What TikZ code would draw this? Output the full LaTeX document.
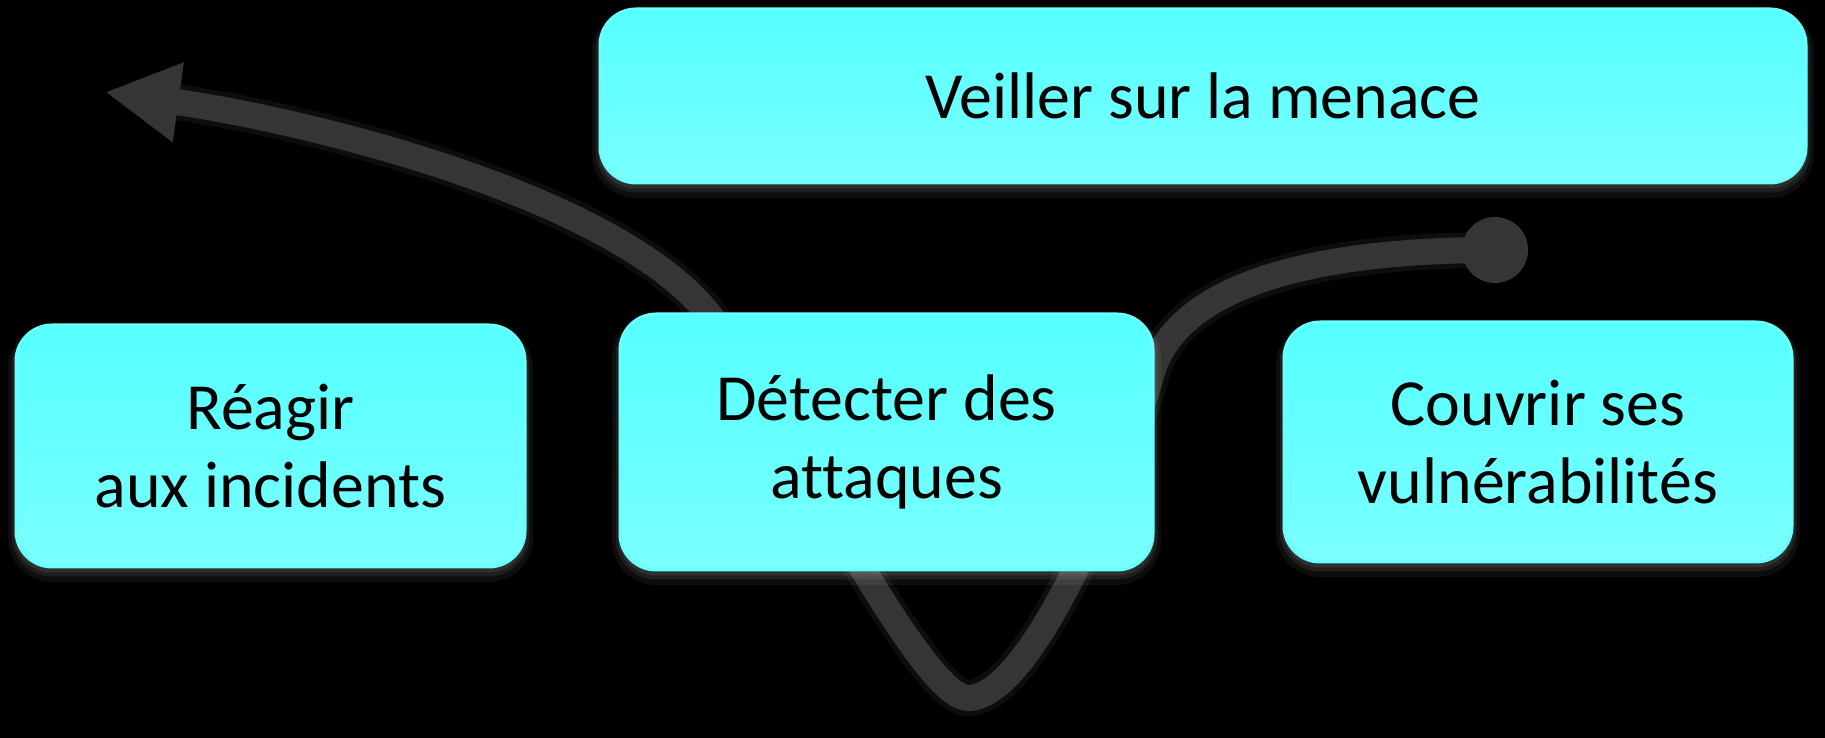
\documentclass[tikz,border=0pt]{standalone}
\usepackage{fontspec}
\setmainfont{Carlito}[Ligatures=NoCommon]
\usepackage{xcolor}
\usepackage{tikz}
\usetikzlibrary{arrows.meta}
\definecolor{FigureCyanTop}{HTML}{55FFFF}
\definecolor{FigureCyanBottom}{HTML}{7AFFFF}
\definecolor{FigureCyanEdge}{HTML}{6AFFFF}
\definecolor{FigureCurve}{HTML}{353535}
\definecolor{FigureInk}{HTML}{000000}
\newcommand{\TaskLabel}{\fontsize{37.5}{44.2}\selectfont}
\tikzset{
  task box/.style={rounded corners=0.72cm,draw=FigureCyanEdge,line width=0.06cm,
    top color=FigureCyanTop,bottom color=FigureCyanBottom,
    text=FigureInk,font=\TaskLabel,align=center,inner sep=0pt,
    preaction={draw=white,opacity=0.05,line width=0.32cm,transform canvas={yshift=-0.14cm}},
    preaction={draw=white,opacity=0.07,line width=0.18cm,transform canvas={yshift=-0.10cm}},
    preaction={draw=white,opacity=0.08,line width=0.08cm,transform canvas={yshift=-0.07cm}}},
  flow curve/.style={draw=FigureCurve,line width=0.52cm,
    -{Triangle[length=1.48cm,width=1.50cm]},
    preaction={draw=white,opacity=0.05,line width=0.72cm}},
  flow dot/.style={circle,fill=FigureCurve,minimum size=1.32cm,inner sep=0pt}
}

\begin{document}
\begin{tikzpicture}[x=1cm,y=1cm]
  % 1825 x 738 px reference, 1 px = 0.02 cm
  \fill[black] (0,0) rectangle (36.50,14.76);
  \path[use as bounding box] (0,0) rectangle (36.50,14.76);

  \coordinate (origin) at (29.90,9.76);
  \coordinate (tip) at (2.10,12.92);
  \draw[flow curve] (origin)
    .. controls (26.00,9.76) and (23.40,8.96) .. (23.00,7.16)
    .. controls (22.30,4.86) and (20.60,0.80) .. (19.36,0.80)
    .. controls (18.50,0.80) and (16.30,5.16) .. (14.40,8.16)
    .. controls (12.80,10.76) and (6.10,12.36) .. (tip);
  \node[flow dot] (dot) at (origin) {};

  \node[task box,minimum width=24.12cm,minimum height=3.48cm]
    (veille) at (24.06,12.84) {Veiller sur la menace};
  \node[task box,minimum width=10.18cm,minimum height=4.84cm]
    (reagir) at (5.41,5.84) {Réagir\\aux incidents};
  \node[task box,minimum width=10.66cm,minimum height=5.12cm]
    (detecter) at (17.73,5.92) {Détecter des\\attaques};
  \node[task box,minimum width=10.16cm,minimum height=4.80cm]
    (couvrir) at (30.76,5.92) {Couvrir ses\\vulnérabilités};
\end{tikzpicture}
\end{document}
